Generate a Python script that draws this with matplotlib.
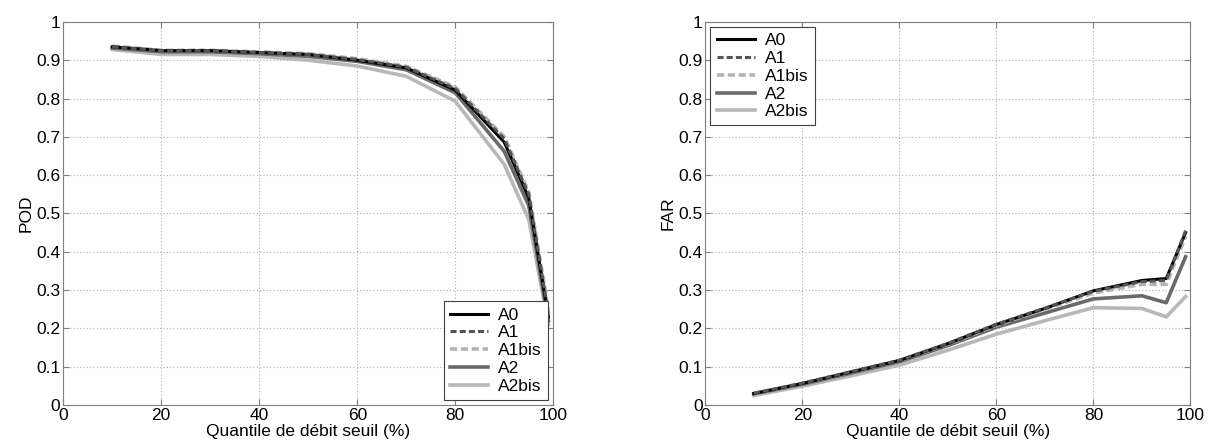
import matplotlib
matplotlib.use("agg")
import matplotlib.pyplot as plt

plt.rcParams['font.family'] = ['Liberation Sans', 'DejaVu Sans']

quantiles = [10, 20, 30, 40, 50, 60, 70, 80, 90, 95, 99]
names = ["A0", "A1", "A1bis", "A2", "A2bis"]

pod_A0 = [0.935, 0.925, 0.925, 0.920, 0.915, 0.900, 0.880, 0.822, 0.686, 0.540, 0.230]
pod_A1 = [0.935, 0.925, 0.925, 0.920, 0.915, 0.902, 0.882, 0.826, 0.695, 0.550, 0.240]
pod_A1bis = [0.937, 0.926, 0.926, 0.922, 0.917, 0.904, 0.884, 0.830, 0.700, 0.555, 0.250]
pod_A2 = [0.932, 0.922, 0.922, 0.917, 0.910, 0.897, 0.875, 0.815, 0.662, 0.520, 0.220]
pod_A2bis = [0.928, 0.915, 0.915, 0.910, 0.900, 0.885, 0.858, 0.793, 0.628, 0.484, 0.210]

far_A0 = [0.030, 0.056, 0.086, 0.116, 0.160, 0.210, 0.252, 0.298, 0.325, 0.330, 0.450]
far_A1 = [0.031, 0.057, 0.087, 0.117, 0.161, 0.211, 0.253, 0.297, 0.322, 0.325, 0.455]
far_A1bis = [0.030, 0.056, 0.086, 0.116, 0.159, 0.208, 0.250, 0.292, 0.315, 0.315, 0.440]
far_A2 = [0.029, 0.054, 0.083, 0.113, 0.155, 0.203, 0.240, 0.277, 0.285, 0.267, 0.387]
far_A2bis = [0.025, 0.049, 0.076, 0.104, 0.143, 0.185, 0.220, 0.254, 0.252, 0.230, 0.283]

colors = ["black", "#555555", "#b4b4b4", "#6a6a6a", "#b8b8b8"]
styles = ["-", (0, (2, 1)), (0, (2, 1)), "-", "-"]
widths = [2.2, 2.2, 2.6, 2.6, 2.6]
order = [4, 3, 2, 0, 1]
fs = 12.5


def draw(ax, series, ylabel, loc):
    handles = {}
    for i in order:
        h, = ax.plot(quantiles, series[i], color=colors[i], linestyle=styles[i],
                     linewidth=widths[i], label=names[i])
        handles[i] = h
    ax.set_xlim(0, 100)
    ax.set_ylim(0, 1)
    ax.set_xticks(range(0, 101, 20))
    ax.set_yticks([i / 10 for i in range(11)])
    ax.set_yticklabels(["0"] + ["0.%d" % i for i in range(1, 10)] + ["1"])
    ax.grid(True, linestyle=(0, (1, 2)), color="#b0b0b0", linewidth=0.8)
    for s in ax.spines.values():
        s.set_color("#808080")
    ax.tick_params(direction="in", labelsize=fs, color="#808080", length=4,
                   top=True, right=True, pad=2)
    ax.set_xlabel("Quantile de débit seuil (%)", fontsize=fs, labelpad=1)
    ax.set_ylabel(ylabel, fontsize=fs, labelpad=2)
    leg = ax.legend([handles[i] for i in range(5)], names, loc=loc, fontsize=fs,
                    fancybox=False, framealpha=1, edgecolor="#404040",
                    borderaxespad=0.3, handlelength=2.2, labelspacing=0.15,
                    borderpad=0.35, handletextpad=0.6)
    leg.get_frame().set_linewidth(0.8)


fig = plt.figure(figsize=(12.16, 4.47), dpi=100)
ax1 = fig.add_axes([0.052, 0.094, 0.403, 0.857])
ax2 = fig.add_axes([0.580, 0.094, 0.399, 0.857])

draw(ax1, [pod_A0, pod_A1, pod_A1bis, pod_A2, pod_A2bis], "POD", "lower right")
draw(ax2, [far_A0, far_A1, far_A1bis, far_A2, far_A2bis], "FAR", "upper left")

fig.savefig("out.png", dpi=100)
